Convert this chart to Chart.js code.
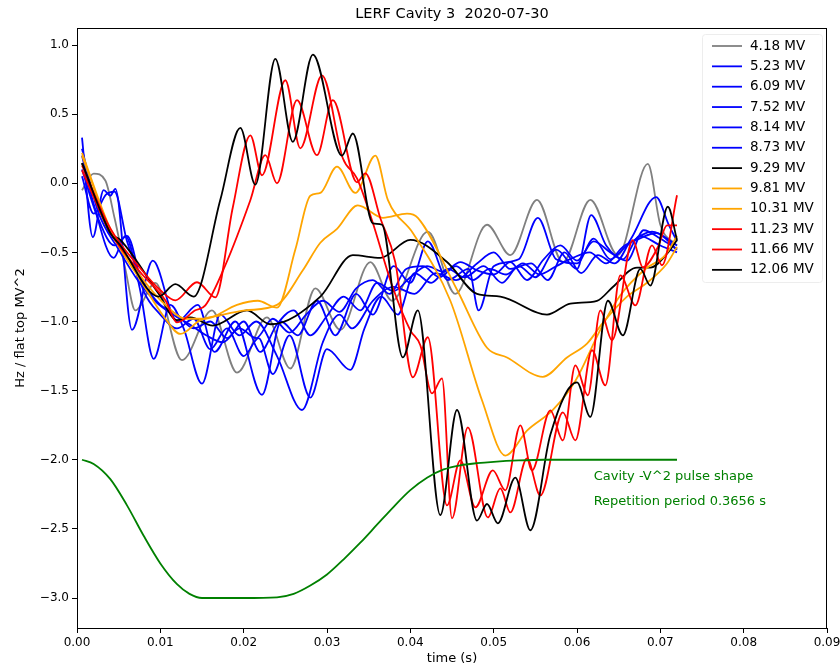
<!DOCTYPE html>
<html><head><meta charset="utf-8">
<script src="https://cdn.jsdelivr.net/npm/chart.js@4/dist/chart.umd.min.js"></script>
<style>html,body{margin:0;padding:0;background:#fff}#wrap{width:840px;height:668px}</style>
</head><body><div id="wrap"><canvas id="c" width="840" height="668"></canvas></div>
<script>
const xTicks = [0,0.01,0.02,0.03,0.04,0.05,0.06,0.07,0.08,0.09];
const yTicks = [-3.0,-2.5,-2.0,-1.5,-1.0,-0.5,0.0,0.5,1.0];
const labels = ["4.18 MV","5.23 MV","6.09 MV","7.52 MV","8.14 MV","8.73 MV","9.29 MV","9.81 MV","10.31 MV","11.23 MV","11.66 MV","12.06 MV"];
const colors = ["#808080","#0000ff","#0000ff","#0000ff","#0000ff","#0000ff","#000000","#ffa500","#ffa500","#ff0000","#ff0000","#000000"];

const t418 = [.0006,.0020,.0034,.0045,.0058,.0070,.0094,.0126,.0162,.0192,.0228,.0256,.0286,.0316,.0352,.0378,.0421,.0454,.0492,.0520,.0552,.0583,.0616,.0649,.0685,.0700,.0720];
const v418 = [-.05,.07,.02,-.25,-.62,-.92,-.72,-1.28,-.92,-1.37,-.97,-1.34,-.76,-1.06,-.57,-.85,-.35,-.80,-.30,-.52,-.12,-.57,-.12,-.52,.14,-.30,-.45];

const t523 = [.0006,.0019,.0032,.0040,.0046,.0066,.0091,.0120,.0145,.0165,.0190,.0222,.0245,.0265,.0288,.0310,.0335,.0355,.0380,.0400,.0421,.0445,.0470,.0482,.0500,.0530,.0553,.0575,.0600,.0620,.0640,.0660,.0690,.0720];
const v523 = [.33,-.39,-.05,-.09,-.04,-1.06,-.56,-1.0,-.88,-1.22,-1.0,-1.53,-1.0,-1.1,-.85,-1.1,-.80,-.95,-.60,-.72,-.42,-.70,-.62,-.92,-.60,-.55,-.25,-.55,-.58,-.40,-.55,-.45,-.35,-.45];

const t609 = [.0006,.0020,.0044,.0058,.0075,.0092,.0112,.0128,.0150,.0172,.0195,.0215,.0240,.0270,.0295,.0315,.0330,.0355,.0380,.0405,.0430,.0455,.0480,.0500,.0520,.0545,.0565,.0585,.0605,.0625,.0645,.0665,.0695,.0710,.0720];
const v609 = [.20,-.15,-.54,-.38,-.75,-1.27,-.88,-1.05,-1.45,-.95,-1.1,-1.0,-1.25,-1.64,-1.15,-.95,-1.05,-.85,-.75,-.80,-.65,-.70,-.58,-.50,-.62,-.58,-.70,-.50,-.65,-.52,-.58,-.40,-.10,-.30,-.42];

const t752 = [.0006,.0025,.0045,.0060,.0080,.0100,.0120,.0140,.0160,.0180,.0200,.0218,.0235,.0255,.0280,.0300,.0328,.0345,.0365,.0385,.0405,.0425,.0445,.0465,.0488,.0510,.0530,.0550,.0575,.0600,.0617,.0635,.0655,.0675,.0700,.0720];
const v752 = [.10,-.25,-.45,-.38,-.78,-.95,-1.05,-.98,-1.2,-1.05,-1.25,-1.12,-1.38,-1.10,-1.55,-1.20,-1.35,-1.05,-.82,-.95,-.65,-.72,-.62,-.68,-.60,-.72,-.60,-.68,-.48,-.62,-.23,-.45,-.55,-.38,-.45,-.50];

const t814 = [.0006,.0025,.0050,.0075,.0095,.0115,.0135,.0155,.0175,.0195,.0215,.0235,.0255,.0275,.0295,.0315,.0335,.0355,.0375,.0395,.0415,.0435,.0455,.0475,.0495,.0515,.0535,.0555,.0575,.0595,.0615,.0635,.0655,.0675,.0695,.0720];
const v814 = [.25,-.2,-.48,-.72,-.86,-.95,-1.02,-1.10,-1.15,-1.05,-1.12,-.98,-1.08,-.95,-.85,-.93,-.76,-.70,-.80,-.62,-.60,-.68,-.60,-.70,-.62,-.66,-.58,-.66,-.60,-.54,-.50,-.58,-.46,-.40,-.36,-.48];

const t873 = [.0006,.0020,.0035,.0045,.0060,.0080,.0100,.0120,.0140,.0160,.0180,.0200,.0220,.0240,.0260,.0280,.0300,.0320,.0340,.0360,.0380,.0400,.0420,.0440,.0460,.0480,.0500,.0520,.0540,.0560,.0580,.0600,.0620,.0640,.0660,.0680,.0700,.0720];
const v873 = [.05,-.22,-.08,-.06,-.42,-.72,-.88,-.95,-1.05,-1.00,-1.12,-1.00,-1.22,-1.02,-.92,-1.10,-.96,-.82,-.92,-.72,-.78,-.68,-.60,-.64,-.57,-.63,-.66,-.57,-.70,-.55,-.45,-.56,-.42,-.50,-.56,-.34,-.40,-.48];

const t929 = [.0006,.0040,.0052,.0098,.0120,.0136,.0163,.0204,.0232,.0292,.0331,.0364,.0400,.0444,.0480,.0508,.0564,.0592,.0624,.0643,.0672,.0688,.0708,.0720];
const v929 = [.145,-.36,-.41,-.80,-.99,-.97,-1.03,-.92,-1.02,-.82,-.52,-.54,-.41,-.57,-.80,-.82,-.95,-.87,-.85,-.75,-.61,-.61,-.51,-.41];

const t981 = [.0006,.0040,.0076,.0106,.0124,.0148,.0172,.0202,.0240,.0271,.0292,.0312,.0337,.0367,.0396,.0409,.0456,.0492,.0516,.0559,.0588,.0612,.0631,.0660,.0684,.0708,.0720];
const v981 = [.20,-.34,-.70,-.98,-1.09,-.99,-.955,-.92,-.88,-.63,-.43,-.33,-.16,-.25,-.22,-.25,-.77,-1.19,-1.26,-1.40,-1.26,-1.16,-1.01,-.82,-.72,-.58,-.46];

const t1031 = [.0006,.0040,.0076,.0106,.0130,.0154,.0192,.0217,.0240,.0262,.0280,.0292,.0312,.0334,.0358,.0373,.0403,.0448,.0486,.0514,.0540,.0571,.0598,.0628,.0652,.0682,.0706,.0720];
const v1031 = [.22,-.33,-.67,-.88,-.98,-.98,-.88,-.85,-.90,-.48,-.09,-.07,.12,-.07,.20,-.12,-.36,-.85,-1.57,-1.97,-1.79,-1.64,-1.43,-1.06,-.81,-.62,-.52,-.38];

const t1123 = [.0006,.0040,.0076,.0106,.0120,.0142,.0154,.0178,.0208,.0226,.0240,.0264,.0288,.0307,.0336,.0346,.0364,.0382,.0403,.0421,.0444,.0460,.0478,.0499,.0514,.0532,.0546,.0568,.0583,.0598,.0613,.0628,.0642,.0667,.0679,.0697,.0708,.0720];
const v1123 = [.094,-.355,-.644,-.847,-1.006,-.919,-.883,-.593,-.123,.203,0,.601,.203,.601,.007,.072,-.253,-.572,-1.404,-1.114,-2.330,-2.004,-2.344,-2.077,-2.221,-1.751,-2.077,-1.643,-1.860,-1.317,-1.534,-.919,-1.136,-.412,-.608,-.463,-.304,-.304];

const t1166 = [.0006,.0040,.0076,.0100,.0118,.0144,.0166,.0187,.0208,.0222,.0250,.0268,.0294,.0319,.0336,.0354,.0378,.0400,.0412,.0426,.0438,.0450,.0469,.0493,.0508,.0520,.0540,.0556,.0583,.0598,.0618,.0634,.0652,.0670,.0690,.0702,.0720];
const v1166 = [.130,-.326,-.615,-.774,-.847,-.716,-.825,-.174,.347,.058,.745,.253,.781,.181,.036,-.268,-.738,-1.064,-1.172,-1.520,-1.411,-2.424,-1.766,-2.417,-2.207,-2.381,-1.990,-2.258,-1.657,-1.860,-1.208,-1.462,-.666,-.883,-.449,-.593,-.087];

const t1206 = [.0006,.0040,.0052,.0098,.0118,.0140,.0172,.0196,.0214,.0238,.0259,.0283,.0318,.0331,.0355,.0366,.0391,.0409,.0436,.0456,.0480,.0492,.0505,.0526,.0544,.0568,.0600,.0616,.0637,.0655,.0676,.0688,.0709,.0720];
const v1206 = [.145,-.36,-.45,-.82,-.73,-.82,-.12,.40,-.01,.90,.30,.93,.20,.36,-.29,-.30,-1.26,-.92,-2.40,-1.64,-2.44,-2.32,-2.46,-2.13,-2.51,-1.82,-1.44,-1.69,-.85,-1.10,-.62,-.74,-.17,-.41];

const tPulse = [.0006,.002,.004,.006,.008,.010,.012,.0135,.015,.020,.024,.026,.028,.030,.032,.034,.036,.038,.040,.042,.044,.046,.048,.050,.053,.056,.072];
const vPulse = [-2.0,-2.03,-2.14,-2.33,-2.55,-2.75,-2.9,-2.97,-3.0,-3.0,-2.995,-2.97,-2.91,-2.83,-2.72,-2.6,-2.47,-2.34,-2.22,-2.13,-2.07,-2.04,-2.025,-2.015,-2.005,-2.0,-2.0];

const annText = ["Cavity -V^2 pulse shape","Repetition period 0.3656 s"];
const annX = 0.062, annY = [-2.12,-2.30];

const seriesT = [t418,t523,t609,t752,t814,t873,t929,t981,t1031,t1123,t1166,t1206];
const seriesV = [v418,v523,v609,v752,v814,v873,v929,v981,v1031,v1123,v1166,v1206];
const zip = (a,b)=>a.map((x,i)=>({x:x,y:b[i]}));
const N = labels.length;
const datasets = labels.map((l,i)=>({label:l,data:zip(seriesT[i],seriesV[i]),borderColor:colors[i],borderWidth:1.8,pointRadius:0,cubicInterpolationMode:'monotone',fill:false,order:N+1-i}));
datasets.push({label:'pulse',data:zip(tPulse,vPulse),borderColor:'#008000',borderWidth:1.8,pointRadius:0,cubicInterpolationMode:'monotone',fill:false,order:0});

const FONT = 'DejaVu Sans';
const deco = {
  id:'deco',
  afterDraw(chart){
    const ctx = chart.ctx, a = chart.chartArea, xs = chart.scales.x, ys = chart.scales.y;
    ctx.save();
    ctx.strokeStyle='#000'; ctx.lineWidth=1;
    ctx.strokeRect(Math.round(a.left)+0.5, Math.round(a.top)+0.5, Math.round(a.right-a.left)-1, Math.round(a.bottom-a.top));
    ctx.fillStyle='#000'; ctx.textAlign='center'; ctx.textBaseline='middle';
    ctx.font = '14.5px "'+FONT+'"';
    ctx.fillText('LERF Cavity 3  2020-07-30', (a.left+a.right)/2, 14);
    ctx.font = '13px "'+FONT+'"';
    ctx.fillText('time (s)', (a.left+a.right)/2, 659);
    ctx.save(); ctx.translate(21,(a.top+a.bottom)/2); ctx.rotate(-Math.PI/2);
    ctx.fillText('Hz / flat top MV^2',0,0); ctx.restore();
    ctx.fillStyle='#008000'; ctx.textAlign='left'; ctx.font='13px "'+FONT+'"';
    annText.forEach((s,i)=>ctx.fillText(s, xs.getPixelForValue(annX), ys.getPixelForValue(annY[i])));
    const lx=702, ly=34, lw=120, lh=248;
    ctx.fillStyle='rgba(255,255,255,0.85)'; ctx.strokeStyle='#ededed';
    ctx.beginPath(); if(ctx.roundRect) ctx.roundRect(lx+0.5,ly+0.5,lw,lh,3); else ctx.rect(lx+0.5,ly+0.5,lw,lh);
    ctx.fill(); ctx.stroke();
    ctx.font='13.5px "'+FONT+'"'; ctx.textBaseline='middle';
    labels.forEach((l,i)=>{
      const y = 46 + i*20.35;
      ctx.strokeStyle=colors[i]; ctx.lineWidth=1.8;
      ctx.beginPath(); ctx.moveTo(712,y); ctx.lineTo(742,y); ctx.stroke();
      ctx.fillStyle='#000'; ctx.fillText(l, 750, y);
    });
    ctx.restore();
  }
};

new Chart(document.getElementById('c'), {
  type:'line',
  data:{datasets},
  options:{
    responsive:false, animation:false,
    layout:{padding:{left:0,right:13,top:28,bottom:0}},
    plugins:{legend:{display:false},tooltip:{enabled:false},title:{display:false}},
    scales:{
      x:{type:'linear',min:0,max:0.09,
        afterBuildTicks:s=>{s.ticks=xTicks.map(v=>({value:v}));},
        afterFit:s=>{s.height=40;s.paddingLeft=0;s.paddingRight=0;},
        ticks:{autoSkip:false,maxRotation:0,color:'#000',font:{family:FONT,size:12},padding:3,callback:v=>Number(v).toFixed(2)},
        grid:{drawOnChartArea:false,drawTicks:true,tickLength:5,color:'#000'},
        border:{color:'#000',width:1}},
      y:{type:'linear',min:-3.217,max:1.123,
        afterBuildTicks:s=>{s.ticks=yTicks.map(v=>({value:v}));},
        afterFit:s=>{s.width=77;s.paddingTop=0;s.paddingBottom=0;},
        ticks:{autoSkip:false,color:'#000',font:{family:FONT,size:12},padding:3,callback:v=>Number(v).toFixed(1).replace('-','\u2212')},
        grid:{drawOnChartArea:false,drawTicks:true,tickLength:5,color:'#000'},
        border:{color:'#000',width:1}}
    }
  },
  plugins:[deco]
});
</script></body></html>
